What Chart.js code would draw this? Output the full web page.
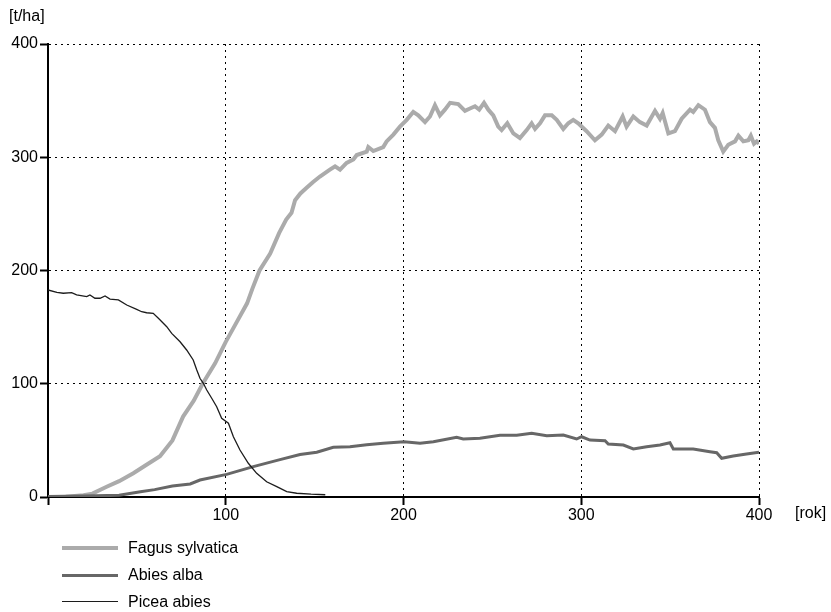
<!DOCTYPE html>
<html lang="pl">
<head>
<meta charset="utf-8">
<title>Biomasa drzewostanu</title>
<script src="https://cdn.jsdelivr.net/npm/chart.js@4.4.1/dist/chart.umd.min.js"></script>
<style>
    html, body { margin: 0; padding: 0; background: #fff; }
    .wrap { position: relative; width: 831px; height: 612px; font-family: "Liberation Sans", Arial, sans-serif; }
    .wrap canvas { position: absolute; left: 0; top: 0; }
    .legend { position: absolute; left: 62px; top: 535px; margin: 0; padding: 0; list-style: none; }
    .legend li { display: flex; align-items: center; height: 26.7px; font-size: 16px; color: #000; }
    .legend li span { display: inline-block; width: 56px; margin-right: 10px; }
</style>
</head>
<body>
<div class="wrap">
    <canvas id="biomass" width="831" height="612"></canvas>
    <ul class="legend"></ul>
</div>
<script>
    const yearTicks = [0, 100, 200, 300, 400];
    const valueTicks = [0, 100, 200, 300, 400];

    const fagusYears = [0, 10, 20, 25, 33, 40, 48, 55, 63, 70, 76, 82, 87, 94, 100, 106, 112, 115, 119, 125, 130, 134, 137, 139, 142, 145.5, 149, 153, 158.6, 161.5, 164.3, 168, 171.8, 173.7, 179.3, 180.2, 183, 188.6, 190.5, 194.3, 198, 201.8, 205.5, 208.3, 212.1, 214.9, 217.7, 220.5, 223.3, 226.2, 230.8, 234.6, 237.4, 240.2, 242.6, 245.3, 247.7, 250.5, 253.3, 255.2, 258.4, 261.8, 265.5, 269.3, 272.1, 274, 276.8, 279.6, 283.4, 286.2, 289.9, 292.7, 295.5, 298.3, 303, 307.7, 311.5, 315.2, 319, 323.3, 325.5, 329.3, 333, 336.8, 341.5, 344.3, 345.8, 349, 352.7, 356.5, 361.2, 363, 365.9, 369.6, 372.4, 375.2, 377.1, 379.9, 382.7, 386.5, 388.4, 391.2, 394, 395.4, 397.2, 398.7, 400];
    const fagusValues = [0, 0.3, 1.5, 3, 9, 14, 21, 28, 36, 50, 71, 85, 100, 118, 137, 154, 171, 184, 200, 215, 233, 245, 251, 262, 268, 273, 278, 283, 289, 292, 289, 295, 298, 302, 305, 309, 305.5, 309, 314, 320, 327, 333, 340, 337, 331, 336, 346, 337, 342, 348, 347, 341, 343, 345, 342, 348, 342, 337, 327, 324, 330, 321, 317, 324, 330, 325, 330, 337, 337, 333, 325, 330, 333, 330, 323, 315, 320, 328, 323, 336, 327, 336, 331, 328, 341, 334, 339, 321, 323, 334, 342, 340, 346, 342, 331, 326, 315, 305, 311, 314, 319, 314, 315, 319, 312, 314, 312];

    const abiesYears = [0, 20, 40, 52, 60, 70, 80, 85.5, 100.5, 115.5, 130.5, 141.8, 151.2, 160.5, 169.9, 179.3, 188.6, 200.3, 209.3, 216.8, 229.9, 233.6, 243, 254.3, 263.7, 272.1, 280.6, 289.9, 297.4, 300.2, 304.9, 313.4, 315.2, 323.7, 329.3, 336.8, 344.3, 349.9, 351.8, 363, 372.4, 376.2, 379, 385.5, 393, 400];
    const abiesValues = [0.5, 0.8, 1.5, 4.7, 6.5, 9.7, 11.5, 15, 20, 26.8, 33, 37.5, 39.5, 43.9, 44.4, 46.2, 47.4, 48.8, 47.4, 48.8, 52.7, 51.2, 51.8, 54.5, 54.5, 56.2, 54.1, 54.7, 51.2, 53.2, 50.3, 49.7, 46.8, 45.9, 42.4, 44.4, 45.9, 47.9, 42.4, 42.4, 40, 39.1, 34.2, 36.2, 38, 39.5];

    const piceaYears = [0, 5, 8.6, 13.3, 16.1, 21.8, 23.6, 26.4, 29.3, 32.1, 34.9, 39.6, 44.3, 49.9, 52.7, 55.5, 59.2, 62.1, 66.8, 69.6, 74.3, 78, 81.7, 83.7, 85.5, 87.4, 89.3, 92.1, 94.9, 97.7, 101.5, 104.3, 108, 112.7, 117.4, 123, 128.7, 134.3, 139.9, 148, 156];
    const piceaValues = [182.8, 180.7, 179.9, 180.4, 178.4, 176.9, 178.4, 175.5, 175.5, 177.5, 174.8, 174, 169.5, 165.7, 163.6, 162.7, 162.2, 157.8, 150.4, 144.5, 137.1, 129.8, 121, 112.1, 104.8, 100.4, 94.5, 87.2, 79.7, 69.5, 65.1, 53.2, 41.5, 29.8, 20.9, 13.5, 9.1, 4.7, 3.3, 2.5, 2];

    const series = [
        { label: "Fagus sylvatica", years: fagusYears, values: fagusValues, color: "#ababab", width: 4, order: 3 },
        { label: "Abies alba", years: abiesYears, values: abiesValues, color: "#676767", width: 3, order: 2 },
        { label: "Picea abies", years: piceaYears, values: piceaValues, color: "#1c1c1c", width: 1.3, order: 1 },
    ];

    const font = { family: "'Liberation Sans', Arial, sans-serif", size: 16 };

    // jednostki osi rysowane obok wykresu
    const unitLabels = {
        id: "unitLabels",
        afterDraw: (chart) => {
            const { ctx, chartArea } = chart;
            ctx.save();
            ctx.fillStyle = "#000";
            ctx.font = `${font.size}px ${font.family}`;
            ctx.textBaseline = "middle";
            ctx.textAlign = "left";
            ctx.fillText("[t/ha]", 9, 17);
            ctx.fillText("[rok]", chartArea.right + 36, chartArea.bottom + 17);
            ctx.restore();
        },
    };

    const axis = (ticks, extra) => ({
        type: "linear",
        min: 0,
        max: 400,
        afterBuildTicks: (scale) => { scale.ticks = ticks.map((value) => ({ value })); },
        grid: { color: "#000", lineWidth: 1, tickLength: 8, tickWidth: 2, tickColor: "#000" },
        border: { color: "#000", width: 2, dash: [2, 4] },
        ticks: { color: "#000", font, padding: 2 },
        ...extra,
    });

    new Chart(document.getElementById("biomass"), {
        type: "line",
        data: {
            datasets: series.map((item) => ({
                label: item.label,
                data: item.years.map((year, index) => ({ x: year, y: item.values[index] })),
                borderColor: item.color,
                borderWidth: item.width,
                pointRadius: 0,
                tension: 0,
                fill: false,
                order: item.order,
            })),
        },
        options: {
            responsive: false,
            animation: false,
            layout: { padding: { top: 44, right: 72, left: 0, bottom: 0 } },
            plugins: { legend: { display: false }, tooltip: { enabled: false } },
            scales: {
                x: axis(yearTicks, {
                    afterFit: (scale) => { scale.height = 115; },
                    ticks: { color: "#000", font, padding: 1, maxRotation: 0, callback: (value) => (value === 0 ? "" : value) },
                }),
                y: axis(valueTicks, {
                    afterFit: (scale) => { scale.width = 48; },
                }),
            },
        },
        plugins: [unitLabels],
    });

    document.querySelector(".legend").innerHTML = series.map((item) => `
        <li><span style="height:${item.width}px;background:${item.color}"></span>${item.label}</li>
    `).join("");
</script>
</body>
</html>
